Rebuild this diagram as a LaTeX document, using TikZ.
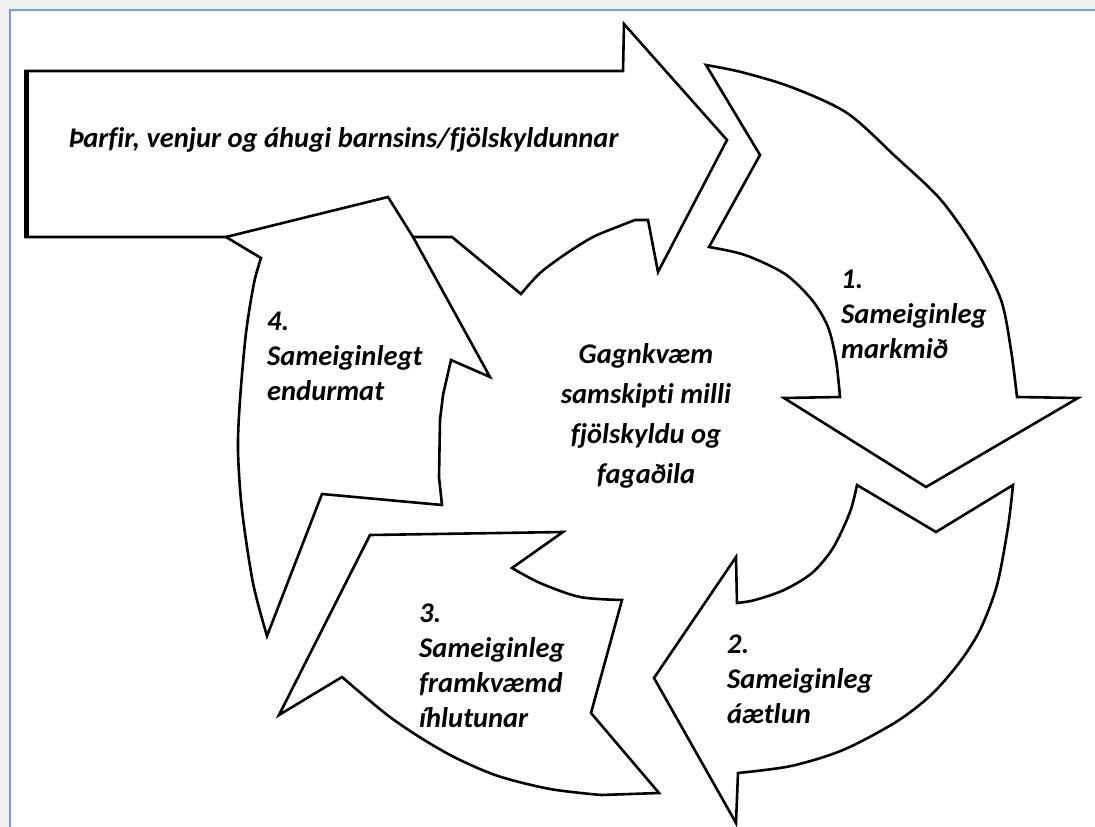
\documentclass[tikz,border=0pt]{standalone}
\usepackage{fontspec}
\setmainfont[Ligatures=NoCommon]{Carlito}
\definecolor{frameblue}{HTML}{7AA0D4}
\definecolor{framegray}{HTML}{EFEFEF}
\begin{document}
\begin{tikzpicture}[x=1pt,y=-1pt,
  arrowshape/.style={draw=black, fill=white, line width=2.6pt, line join=miter, miter limit=20},
  lbl/.style={font=\fontsize{28.5}{35}\selectfont\bfseries\itshape, align=left, inner sep=0pt, anchor=base west},
  ctr/.style={font=\fontsize{28.5}{40}\selectfont\bfseries\itshape, align=center, inner sep=0pt, anchor=base},
]
\fill[white] (0,0) rectangle (1095,827);
\useasboundingbox (0,0) rectangle (1095,827);
% window frame
\fill[framegray] (0,0) rectangle (1095,9);
\fill[framegray] (0,0) rectangle (9,827);
\draw[frameblue, line width=2pt] (10,827) -- (10,10) -- (1095,10);

% big straight arrow
\draw[arrowshape] (26,71) -- (623,71) -- (624,24) -- (727,140) -- (658,272) -- (648,220) -- (635,220)
  -- plot[smooth] coordinates {(635,220) (617,227) (593,237) (567,253) (540,273) (521,294)}
  -- (452,237) -- (26,237) -- cycle;
\draw[line width=5pt] (26,70) -- (26,238);

% arrow 1
\draw[arrowshape] (706,65) -- (760,155) -- (709,247)
  -- plot[smooth] coordinates {(709,247) (745,255) (785,274) (812,300) (828,327) (836,360) (840,397)}
  -- (784,398) -- (926,487) -- (1078,398) -- (1017,397)
  -- plot[smooth] coordinates {(1017,397) (1011,350) (1001,300) (976,250) (941,200) (896,157) (847,113) (791,87) (741,72) (706,65)}
  -- cycle;

% arrow 2
\draw[arrowshape] (857,485) -- (936,532) -- (1013,485)
  -- plot[smooth] coordinates {(1013,485) (1008,527) (997,585) (980,630) (959,663) (931,695) (896,722) (843,750) (791,766) (738,773)}
  -- (736,823) -- (654,678) -- (736,557) -- (737,603)
  -- plot[smooth] coordinates {(737,603) (755,600) (784,590) (812,573) (833,548) (850,512) (857,485)}
  -- cycle;

% arrow 3
\draw[arrowshape] (279,715) -- (342,677)
  -- plot[smooth] coordinates {(342,677) (386,714) (421,738) (456,758) (498,776) (550,789) (601,795)}
  -- (659,793) -- (591,713) -- (622,600)
  -- plot[smooth] coordinates {(622,600) (580,597) (540,583) (512,568)}
  -- (563,532) -- (370,535) -- cycle;

% arrow 4
\draw[arrowshape] (267,636)
  -- plot[smooth] coordinates {(267,636) (253,583) (242,510) (238,450) (240,400) (246,333) (254,283) (261,258)}
  -- (226,237) -- (388,197) -- (413,237) -- (490,377) -- (451,360) -- (443,395) -- (440,420) -- (439,477) -- (442,505) -- (322,494) -- cycle;

% labels (anchored at the baseline of the last line)
\node[lbl] (tbig) at (68,147) {Þarfir, venjur og áhugi barnsins/fjölskyldunnar};
\node[lbl] (t1) at (841,358) {1.\\Sameiginleg\\markmið};
\node[lbl] (t2) at (727,723) {2.\\Sameiginleg\\áætlun};
\node[lbl] (t3) at (419,727) {3.\\Sameiginleg\\framkvæmd\\íhlutunar};
\node[lbl] (t4) at (267,400) {4.\\Sameiginlegt\\endurmat};
\node[ctr] (tc) at (646,483) {Gagnkvæm\\samskipti milli\\fjölskyldu og\\fagaðila};
\end{tikzpicture}
\end{document}
